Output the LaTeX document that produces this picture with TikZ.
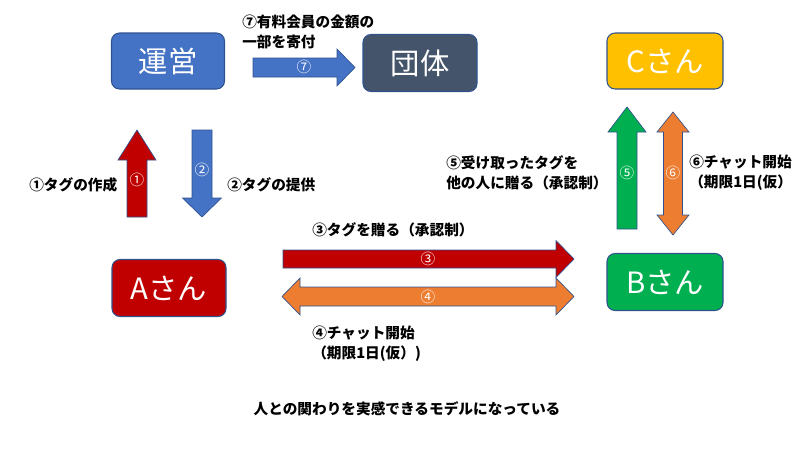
\documentclass[tikz,border=0pt]{standalone}
\usepackage{fontspec}
\setmainfont{Noto Sans CJK JP}
\usetikzlibrary{positioning}
\definecolor{cblue}{HTML}{4472C4}
\definecolor{cslate}{HTML}{44546A}
\definecolor{cyellow}{HTML}{FFC000}
\definecolor{cred}{HTML}{C00000}
\definecolor{cgreen}{HTML}{00B050}
\definecolor{corange}{HTML}{ED7D31}
\definecolor{cline}{HTML}{2F528F}
% block arrow: style, centre, angle, length, half body, half head, head length
\newcommand\blockarrow[7]{%
  \begin{scope}[shift={#2},rotate=#3]
    \filldraw[arw,#1] (-#4/2,-#5) -- (#4/2-#7,-#5) -- (#4/2-#7,-#6) -- (#4/2,0)
      -- (#4/2-#7,#6) -- (#4/2-#7,#5) -- (-#4/2,#5) -- cycle;
  \end{scope}}
\newcommand\dblarrow[7]{%
  \begin{scope}[shift={#2},rotate=#3]
    \filldraw[arw,#1] (-#4/2,0) -- (-#4/2+#7,-#6) -- (-#4/2+#7,-#5) -- (#4/2-#7,-#5)
      -- (#4/2-#7,-#6) -- (#4/2,0) -- (#4/2-#7,#6) -- (#4/2-#7,#5)
      -- (-#4/2+#7,#5) -- (-#4/2+#7,#6) -- cycle;
  \end{scope}}
\begin{document}
\begin{tikzpicture}[x=0.75pt,y=-0.75pt,
    bx/.style={draw=cline, line width=0.8pt, rounded corners=6pt, text=white,
      font=\fontsize{22}{24}\selectfont, inner sep=0pt},
    arw/.style={draw=cline, line width=0.5pt},
    num/.style={text=white, font=\fontsize{11}{12}\selectfont, inner sep=0pt},
    lb/.style={font=\bfseries\fontsize{11}{15}\selectfont, align=left, anchor=west, inner sep=0pt}
    ]
    \useasboundingbox (0,0) rectangle (800,450);
    % boxes
    \node[bx, fill=cblue, minimum width=113*0.75pt, minimum height=56*0.75pt] (unei) at (168,61) {運営};
    \node[bx, fill=cslate, minimum width=114*0.75pt, minimum height=57*0.75pt] (dantai) at (420,63) {団体};
    \node[bx, fill=cyellow, minimum width=116*0.75pt, minimum height=56*0.75pt] (csan) at (665,61) {Cさん};
    \node[bx, fill=cred, minimum width=114*0.75pt, minimum height=57*0.75pt] (asan) at (169,288) {Aさん};
    \node[bx, fill=cgreen, minimum width=116*0.75pt, minimum height=57*0.75pt] (bsan) at (665,282) {Bさん};
    % arrows
    \blockarrow{fill=cred}{(137,173.5)}{90}{87}{10}{19}{30}
    \blockarrow{fill=cblue}{(202,173.5)}{-90}{87}{10}{19.5}{19}
    \blockarrow{fill=cred}{(428.5,259)}{0}{291}{9}{18.5}{18}
    \dblarrow{fill=corange}{(428,296.5)}{0}{292}{9.5}{18.5}{18}
    \blockarrow{fill=cgreen}{(627,168)}{90}{122}{10}{19}{25}
    \dblarrow{fill=corange}{(673,173.5)}{90}{123}{9.5}{16}{20}
    \blockarrow{fill=cblue}{(304,67.5)}{0}{102}{9.5}{18.5}{18}
    % numbers on the arrows
    \node[num] (n1) at (137,180) {①};
    \node[num] (n2) at (202,170) {②};
    \node[num] (n3) at (428,259) {③};
    \node[num] (n4) at (428,297) {④};
    \node[num] (n5) at (627,173) {⑤};
    \node[num] (n6) at (673,173) {⑥};
    \node[num] (n7) at (304,67) {⑦};
    % labels
    \node[lb] (l7) at (242,32) {⑦有料会員の金額の\\一部を寄付};
    \node[lb] (l1) at (29,185) {①タグの作成};
    \node[lb] (l2) at (227,185) {②タグの提供};
    \node[lb] (l3) at (312,230) {③タグを贈る（承認制）};
    \node[lb] (l4) at (312,344) {④チャット開始\\（期限1日(仮）)};
    \node[lb] (l5) at (446,173) {⑤受け取ったタグを\\他の人に贈る（承認制）};
    \node[lb] (l6) at (689,173) {⑥チャット開始\\（期限1日(仮）};
    \node[font=\bfseries\fontsize{11}{12}\selectfont] (note) at (407,409) {人との関わりを実感できるモデルになっている};
\end{tikzpicture}
\end{document}
